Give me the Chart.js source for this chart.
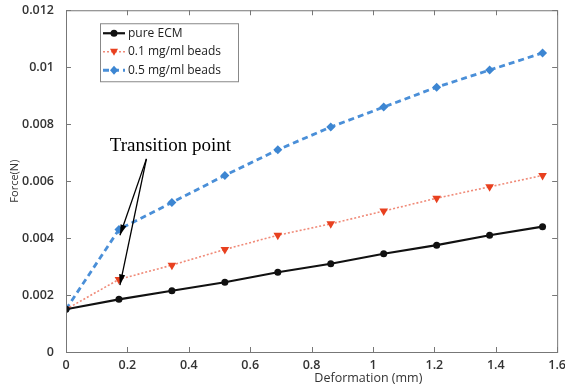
<!DOCTYPE html>
<html>
<head>
<meta charset="utf-8">
<script src="https://cdn.jsdelivr.net/npm/chart.js@4.4.1/dist/chart.umd.min.js"></script>
<style>
html,body{margin:0;padding:0;background:#fff}
#wrap{width:565px;height:387px}
</style>
</head>
<body>
<div id="wrap"><canvas id="forceChart" width="565" height="387"></canvas></div>
<script>
// values
const deformation = [0, 0.1725, 0.345, 0.5175, 0.69, 0.8625, 1.035, 1.2075, 1.38, 1.5525]
const pureECM = [0.0015, 0.00185, 0.00215, 0.00245, 0.0028, 0.0031, 0.00345, 0.00375, 0.0041, 0.0044]
const beads01 = [0.0015, 0.00255, 0.00305, 0.0036, 0.0041, 0.0045, 0.00495, 0.0054, 0.0058, 0.0062]
const beads05 = [0.0015, 0.0043, 0.00525, 0.0062, 0.0071, 0.0079, 0.0086, 0.0093, 0.0099, 0.0105]
const seriesNames = ["pure ECM", "0.1 mg/ml beads", "0.5 mg/ml beads"]
const xTicks = [0, 0.2, 0.4, 0.6, 0.8, 1, 1.2, 1.4, 1.6]
const yTicks = [0, 0.002, 0.004, 0.006, 0.008, 0.01, 0.012]
const transitionLabel = "Transition point"
const xTitle = "Deformation (mm)"

const pts = ys => ys.map((y, i) => ({x: deformation[i], y: y}))

const sans = "'Open Sans', 'Liberation Sans', sans-serif"
const tickFont = {family: sans, size: 12.5, weight: "600", lineHeight: 1}

// box, inward ticks, legend, x title and arrow annotation
const decorations = {
  id: "decorations",
  afterDraw(chart) {
    const c = chart.ctx
    const a = chart.chartArea
    const xs = chart.scales.x, ys = chart.scales.y
    c.save()
    c.strokeStyle = "#777"
    c.lineWidth = 1
    c.strokeRect(a.left + 0.5, a.top + 0.5, a.right - a.left, a.bottom - a.top)
    c.beginPath()
    xTicks.forEach(v => {
      const px = Math.round(xs.getPixelForValue(v)) + 0.5
      c.moveTo(px, a.bottom); c.lineTo(px, a.bottom - 5)
      c.moveTo(px, a.top); c.lineTo(px, a.top + 5)
    })
    yTicks.forEach(v => {
      const py = Math.round(ys.getPixelForValue(v)) + 0.5
      c.moveTo(a.left, py); c.lineTo(a.left + 5, py)
      c.moveTo(a.right, py); c.lineTo(a.right - 5, py)
    })
    c.stroke()

    // x axis title (sits right of centre in the original)
    c.fillStyle = "#333"
    c.font = "12.5px " + sans
    c.textAlign = "center"
    c.textBaseline = "middle"
    c.fillText(xTitle, xs.getPixelForValue(0.985), a.bottom + 26)

    // legend
    const lx = a.left + 34, ly = a.top + 13
    c.fillStyle = "#fff"
    c.fillRect(lx, ly, 138, 58)
    c.strokeStyle = "#888"
    c.strokeRect(lx + 0.5, ly + 0.5, 138, 58)
    c.font = "12px " + sans
    c.textAlign = "left"
    chart.data.datasets.forEach((ds, i) => {
      const yy = ly + 10 + i * 18.5
      c.strokeStyle = ds.borderColor
      c.lineWidth = ds.borderWidth
      c.setLineDash(ds.borderDash || [])
      c.beginPath(); c.moveTo(lx + 3, yy); c.lineTo(lx + 25, yy); c.stroke()
      c.setLineDash([])
      c.fillStyle = ds.pointBackgroundColor
      c.beginPath()
      if (ds.pointStyle === "circle") {
        c.arc(lx + 14, yy, 3.5, 0, Math.PI * 2)
      } else if (ds.pointStyle === "triangle") {
        c.moveTo(lx + 10, yy - 3); c.lineTo(lx + 18, yy - 3); c.lineTo(lx + 14, yy + 4)
      } else {
        c.moveTo(lx + 14, yy - 4.5); c.lineTo(lx + 18, yy); c.lineTo(lx + 14, yy + 4.5); c.lineTo(lx + 10, yy)
      }
      c.closePath(); c.fill()
      c.fillStyle = "#222"
      c.fillText(ds.label, lx + 28, yy)
    })

    // annotation
    c.fillStyle = "#000"
    c.font = "19px 'Liberation Serif', 'DejaVu Serif', serif"
    c.textAlign = "center"
    c.textBaseline = "alphabetic"
    c.fillText(transitionLabel, xs.getPixelForValue(0.34), ys.getPixelForValue(0.00705))
    const sx = xs.getPixelForValue(0.262), sy = ys.getPixelForValue(0.00678)
    const targets = [[deformation[1], beads05[1] - 0.0002], [deformation[1], beads01[1] - 0.0002]]
    c.strokeStyle = "#000"
    c.lineWidth = 1.3
    targets.forEach(t => {
      const tx = xs.getPixelForValue(t[0]) + 1, ty = ys.getPixelForValue(t[1])
      c.beginPath(); c.moveTo(sx, sy); c.lineTo(tx, ty); c.stroke()
      const ang = Math.atan2(ty - sy, tx - sx)
      c.beginPath()
      c.moveTo(tx, ty)
      c.lineTo(tx - 11 * Math.cos(ang - 0.28), ty - 11 * Math.sin(ang - 0.28))
      c.lineTo(tx - 11 * Math.cos(ang + 0.28), ty - 11 * Math.sin(ang + 0.28))
      c.closePath(); c.fill()
    })
    c.restore()
  }
}

new Chart(document.getElementById("forceChart"), {
  type: "line",
  data: {
    datasets: [
      {
        label: seriesNames[0], data: pts(pureECM),
        borderColor: "#111", borderWidth: 2.2,
        pointStyle: "circle", pointRadius: 3.5,
        pointBackgroundColor: "#111", pointBorderColor: "#111", pointBorderWidth: 0,
        order: 1
      },
      {
        label: seriesNames[1], data: pts(beads01),
        borderColor: "#f08a78", borderWidth: 1.6, borderDash: [2, 2],
        pointStyle: "triangle", pointRotation: 180, pointRadius: 5,
        pointBackgroundColor: "#e8401f", pointBorderColor: "#e8401f", pointBorderWidth: 0,
        order: 2
      },
      {
        label: seriesNames[2], data: pts(beads05),
        borderColor: "#4a8fd8", borderWidth: 2.8, borderDash: [6, 4],
        pointStyle: "rectRot", pointRadius: 4.5,
        pointBackgroundColor: "#3d86d2", pointBorderColor: "#3d86d2", pointBorderWidth: 0,
        order: 3
      }
    ]
  },
  options: {
    responsive: false,
    animation: false,
    layout: {padding: {top: 2, right: 7, left: 0, bottom: 0}},
    plugins: {legend: {display: false}, tooltip: {enabled: false}},
    scales: {
      x: {
        type: "linear", min: 0, max: 1.6,
        afterBuildTicks: s => { s.ticks = xTicks.map(v => ({value: v})) },
        afterFit: s => { s.height = 35 },
        grid: {display: false}, border: {display: false},
        ticks: {color: "#333", font: tickFont, padding: -1, maxRotation: 0,
          callback: v => String(+v.toFixed(1))}
      },
      y: {
        min: 0, max: 0.012,
        afterBuildTicks: s => { s.ticks = yTicks.map(v => ({value: v})) },
        afterFit: s => { s.width = 66 },
        grid: {display: false}, border: {display: false},
        ticks: {color: "#333", font: tickFont, padding: 4,
          callback: v => String(+v.toFixed(3))},
        title: {display: true, text: "Force(N)", color: "#333",
          font: {family: sans, size: 11}, padding: {top: 8, bottom: 0}}
      }
    }
  },
  plugins: [decorations]
})
</script>
</body>
</html>
